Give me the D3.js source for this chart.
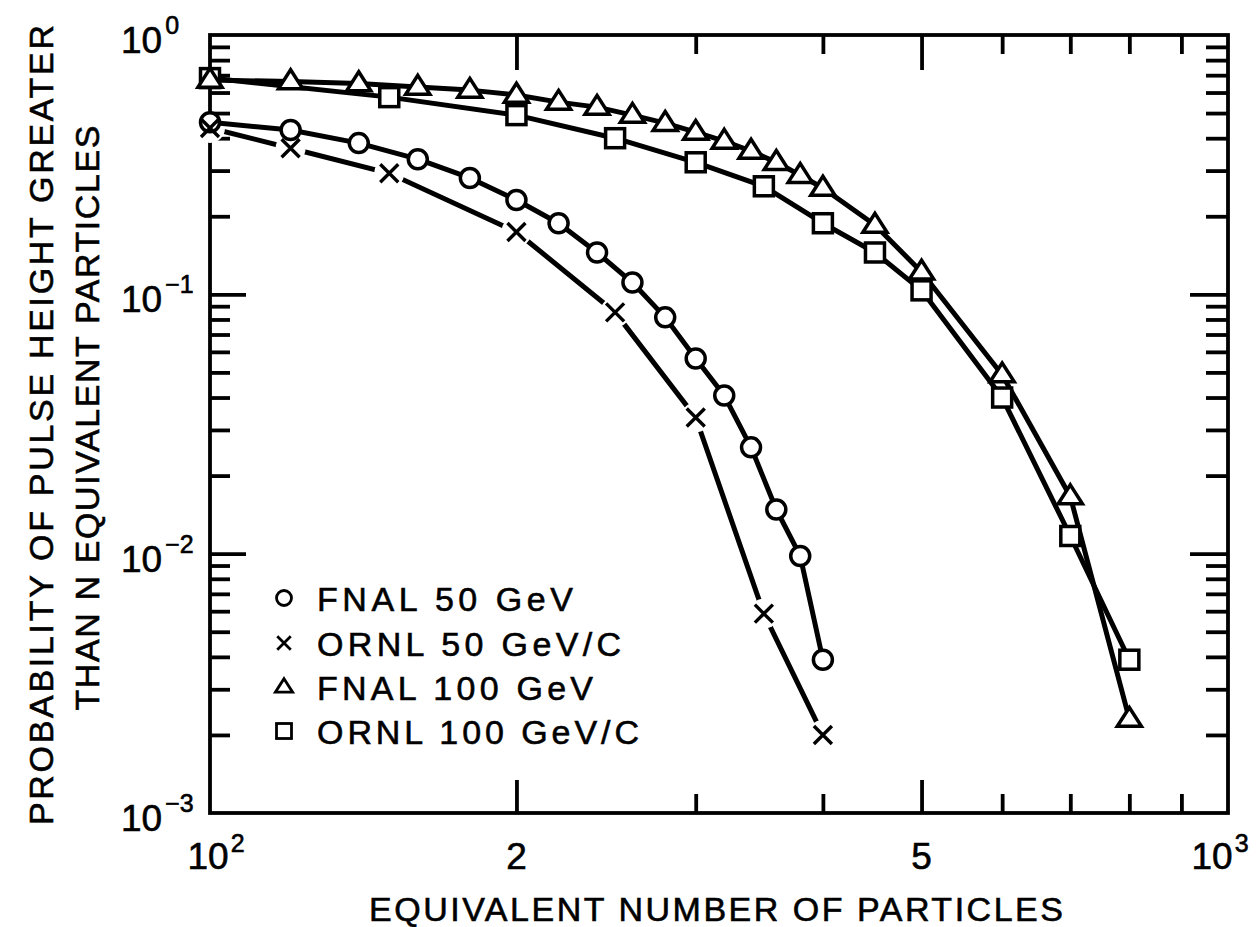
<!DOCTYPE html>
<html>
<head>
<meta charset="utf-8">
<script src="https://cdn.jsdelivr.net/npm/d3@7"></script>
<style>
  html, body { margin: 0; padding: 0; background: #fff; }
  svg { display: block; }
  text { font-family: "Liberation Sans", Arial, sans-serif; fill: #000; stroke: #000; stroke-width: 0.6px; }
</style>
</head>
<body>
<svg id="chart" width="1256" height="927"></svg>
<script>
// ---------------- data ----------------
const fnal50X  = [100,120,140,160,180,200,220,240,260,280,300,320,340,360,380,400];
const fnal50Y  = [0.461,0.430,0.383,0.332,0.281,0.231,0.188,0.145,0.111,0.0815,0.0566,0.0407,0.0257,0.0148,0.0098,0.0039];

const ornl50X  = [100,120,150,200,250,300,350,400];
const ornl50Y  = [0.438,0.366,0.293,0.174,0.0852,0.0335,0.00587,0.0020];

const fnal100X = [100,120,140,160,180,200,220,240,260,280,300,320,340,360,380,400,450,500,600,700,800];
const fnal100Y = [0.670,0.662,0.650,0.630,0.613,0.587,0.551,0.527,0.491,0.457,0.422,0.390,0.357,0.323,0.288,0.257,0.185,0.122,0.049,0.0166,0.0023];

const ornl100X = [100,150,200,250,300,350,400,450,500,600,700,800];
const ornl100Y = [0.682,0.576,0.491,0.400,0.323,0.261,0.188,0.145,0.1036,0.040,0.0117,0.0039];

const legendLabels = ["FNAL 50 GeV","ORNL 50 GeV/C","FNAL 100 GeV","ORNL 100 GeV/C"];
const legendSymbols = ["circle","cross","triangle","square"];

const xMajorTicks = [200, 500];
const xMinorTicks = [300, 400, 600, 700, 800, 900];
const xLabelValues = [100, 200, 500, 1000];
const xLabelBase   = ["10", "2", "5", "10"];
const xLabelSup    = ["2", "", "", "3"];

const yMajorTicks = [0.1, 0.01];
const yMinorTicks = [0.2,0.3,0.4,0.5,0.6,0.7,0.8,0.9, 0.02,0.03,0.04,0.05,0.06,0.07,0.08,0.09, 0.002,0.003,0.004,0.005,0.006,0.007,0.008,0.009];
const yLabelValues = [1, 0.1, 0.01, 0.001];
const yLabelBase   = ["10", "10", "10", "10"];
const yLabelSup    = ["0", "\u22121", "\u22122", "\u22123"];

const xTitle = "EQUIVALENT NUMBER OF PARTICLES";
const yTitle1 = "PROBABILITY OF PULSE HEIGHT GREATER";
const yTitle2 = "THAN N EQUIVALENT PARTICLES";

// ---------------- layout ----------------
const M = {left: 210, right: 1228, top: 35, bottom: 813};
const svg = d3.select("#chart");
svg.append("rect").attr("width",1256).attr("height",927).attr("fill","#fff");

const x = d3.scaleLog().domain([100, 1000]).range([M.left, M.right]);
const y = d3.scaleLog().domain([0.001, 1]).range([M.bottom, M.top]);

const H = M.bottom - M.top, W = M.right - M.left;
const AX = 3.8;

function tickAxis(axisFn, scale, values, size, transform) {
  const g = svg.append("g").attr("transform", transform)
    .call(axisFn(scale).tickValues(values).tickSize(size).tickFormat(""));
  g.select(".domain").remove();
  g.selectAll(".tick line").attr("stroke","#000").attr("stroke-width",AX);
  return g;
}
// bottom
tickAxis(d3.axisBottom, x, xMajorTicks, -33, `translate(0,${M.bottom})`);
tickAxis(d3.axisBottom, x, xMinorTicks, -19, `translate(0,${M.bottom})`);
// top
tickAxis(d3.axisTop, x, xMajorTicks, -35, `translate(0,${M.top})`);
tickAxis(d3.axisTop, x, xMinorTicks, -19, `translate(0,${M.top})`);
// left
tickAxis(d3.axisLeft, y, yMajorTicks, -36, `translate(${M.left},0)`);
tickAxis(d3.axisLeft, y, yMinorTicks, -20, `translate(${M.left},0)`);
// right
tickAxis(d3.axisRight, y, yMajorTicks, -38, `translate(${M.right},0)`);
tickAxis(d3.axisRight, y, yMinorTicks, -22, `translate(${M.right},0)`);

// frame
svg.append("rect").attr("x",M.left).attr("y",M.top).attr("width",W).attr("height",H)
  .attr("fill","none").attr("stroke","#000").attr("stroke-width",AX);

// ---------------- tick labels ----------------
const xl = svg.append("g");
xLabelValues.forEach((v,i) => {
  const t = xl.append("text").attr("x", x(v) + (xLabelSup[i] ? (i===0 ? 6 : -8) : 0)).attr("y", 869)
    .attr("text-anchor","middle").attr("font-size",37);
  t.append("tspan").text(xLabelBase[i]);
  if (xLabelSup[i]) t.append("tspan").attr("dx",2).attr("dy",-17).attr("font-size",25).text(xLabelSup[i]);
});
const yl = svg.append("g");
yLabelValues.forEach((v,i) => {
  const t = yl.append("text").attr("x", 121).attr("y", y(v) + 18)
    .attr("text-anchor","start").attr("font-size",37);
  t.append("tspan").text(yLabelBase[i]);
  t.append("tspan").attr("dx",3).attr("dy",-19).attr("font-size",25).text(yLabelSup[i]);
});

// ---------------- titles ----------------
svg.append("text").attr("x", 716).attr("y", 921).attr("text-anchor","middle")
  .attr("font-size",34).attr("textLength",694).attr("lengthAdjust","spacing").text(xTitle);
svg.append("text").attr("transform","translate(53,425) rotate(-90)").attr("text-anchor","middle")
  .attr("font-size",34).attr("textLength",800).attr("lengthAdjust","spacing").text(yTitle1);
svg.append("text").attr("transform","translate(99,418) rotate(-90)").attr("text-anchor","middle")
  .attr("font-size",34).attr("textLength",585).attr("lengthAdjust","spacing").text(yTitle2);

// ---------------- data lines ----------------
const line = d3.line().x(d => x(d[0])).y(d => y(d[1]));
const zip = (a,b) => a.map((v,i) => [v, b[i]]);
const sFnal50 = zip(fnal50X, fnal50Y);
const sOrnl50 = zip(ornl50X, ornl50Y);
const sFnal100 = zip(fnal100X, fnal100Y);
const sOrnl100 = zip(ornl100X, ornl100Y);

const LW = 5;
svg.append("path").datum(sOrnl50).attr("d", line).attr("fill","none").attr("stroke","#000").attr("stroke-width",LW);
// white gaps around the crosses
svg.append("g").selectAll("circle").data(sOrnl50).join("circle")
  .attr("cx", d => x(d[0])).attr("cy", d => y(d[1])).attr("r", 15).attr("fill","#fff");
[sFnal50, sOrnl100, sFnal100].forEach(s => {
  svg.append("path").datum(s).attr("d", line).attr("fill","none").attr("stroke","#000")
    .attr("stroke-width",LW).attr("stroke-linejoin","round");
});

// ---------------- markers ----------------
function drawMarker(g, type, cx, cy, sz, sw) {
  if (type === "circle") {
    g.append("circle").attr("cx",cx).attr("cy",cy).attr("r",sz*0.5)
      .attr("fill","#fff").attr("stroke","#000").attr("stroke-width",sw);
  } else if (type === "square") {
    g.append("rect").attr("x",cx-sz*0.5).attr("y",cy-sz*0.5).attr("width",sz).attr("height",sz)
      .attr("fill","#fff").attr("stroke","#000").attr("stroke-width",sw);
  } else if (type === "triangle") {
    const h = sz*0.9, w = sz*1.15;
    g.append("path").attr("d",`M${cx},${cy-h*0.62}L${cx+w/2},${cy+h*0.38}L${cx-w/2},${cy+h*0.38}Z`)
      .attr("fill","#fff").attr("stroke","#000").attr("stroke-width",sw).attr("stroke-linejoin","miter");
  } else if (type === "cross") {
    const r = sz*0.45;
    g.append("path").attr("d",`M${cx-r},${cy-r}L${cx+r},${cy+r}M${cx-r},${cy+r}L${cx+r},${cy-r}`)
      .attr("fill","none").attr("stroke","#000").attr("stroke-width",sw);
  }
}
const mk = svg.append("g");
sOrnl100.forEach(d => drawMarker(mk, "square", x(d[0]), y(d[1]), 19, 3.5));
sFnal100.forEach(d => drawMarker(mk, "triangle", x(d[0]), y(d[1]), 21, 3.5));
sFnal50.forEach(d => drawMarker(mk, "circle", x(d[0]), y(d[1]), 19, 3.5));
sOrnl50.forEach(d => drawMarker(mk, "cross", x(d[0]), y(d[1]), 20, 3.4));

// ---------------- legend ----------------
const legendY = [598, 643, 687, 731];
const legendW = [256, 304, 276, 322];
const lg = svg.append("g");
legendLabels.forEach((lab,i) => {
  drawMarker(lg, legendSymbols[i], 284, legendY[i], 15, 2.8);
  lg.append("text").attr("x", 317).attr("y", legendY[i] + 12.5).attr("font-size",34)
    .attr("textLength", legendW[i]).attr("lengthAdjust","spacing").text(lab);
});
</script>
</body>
</html>
